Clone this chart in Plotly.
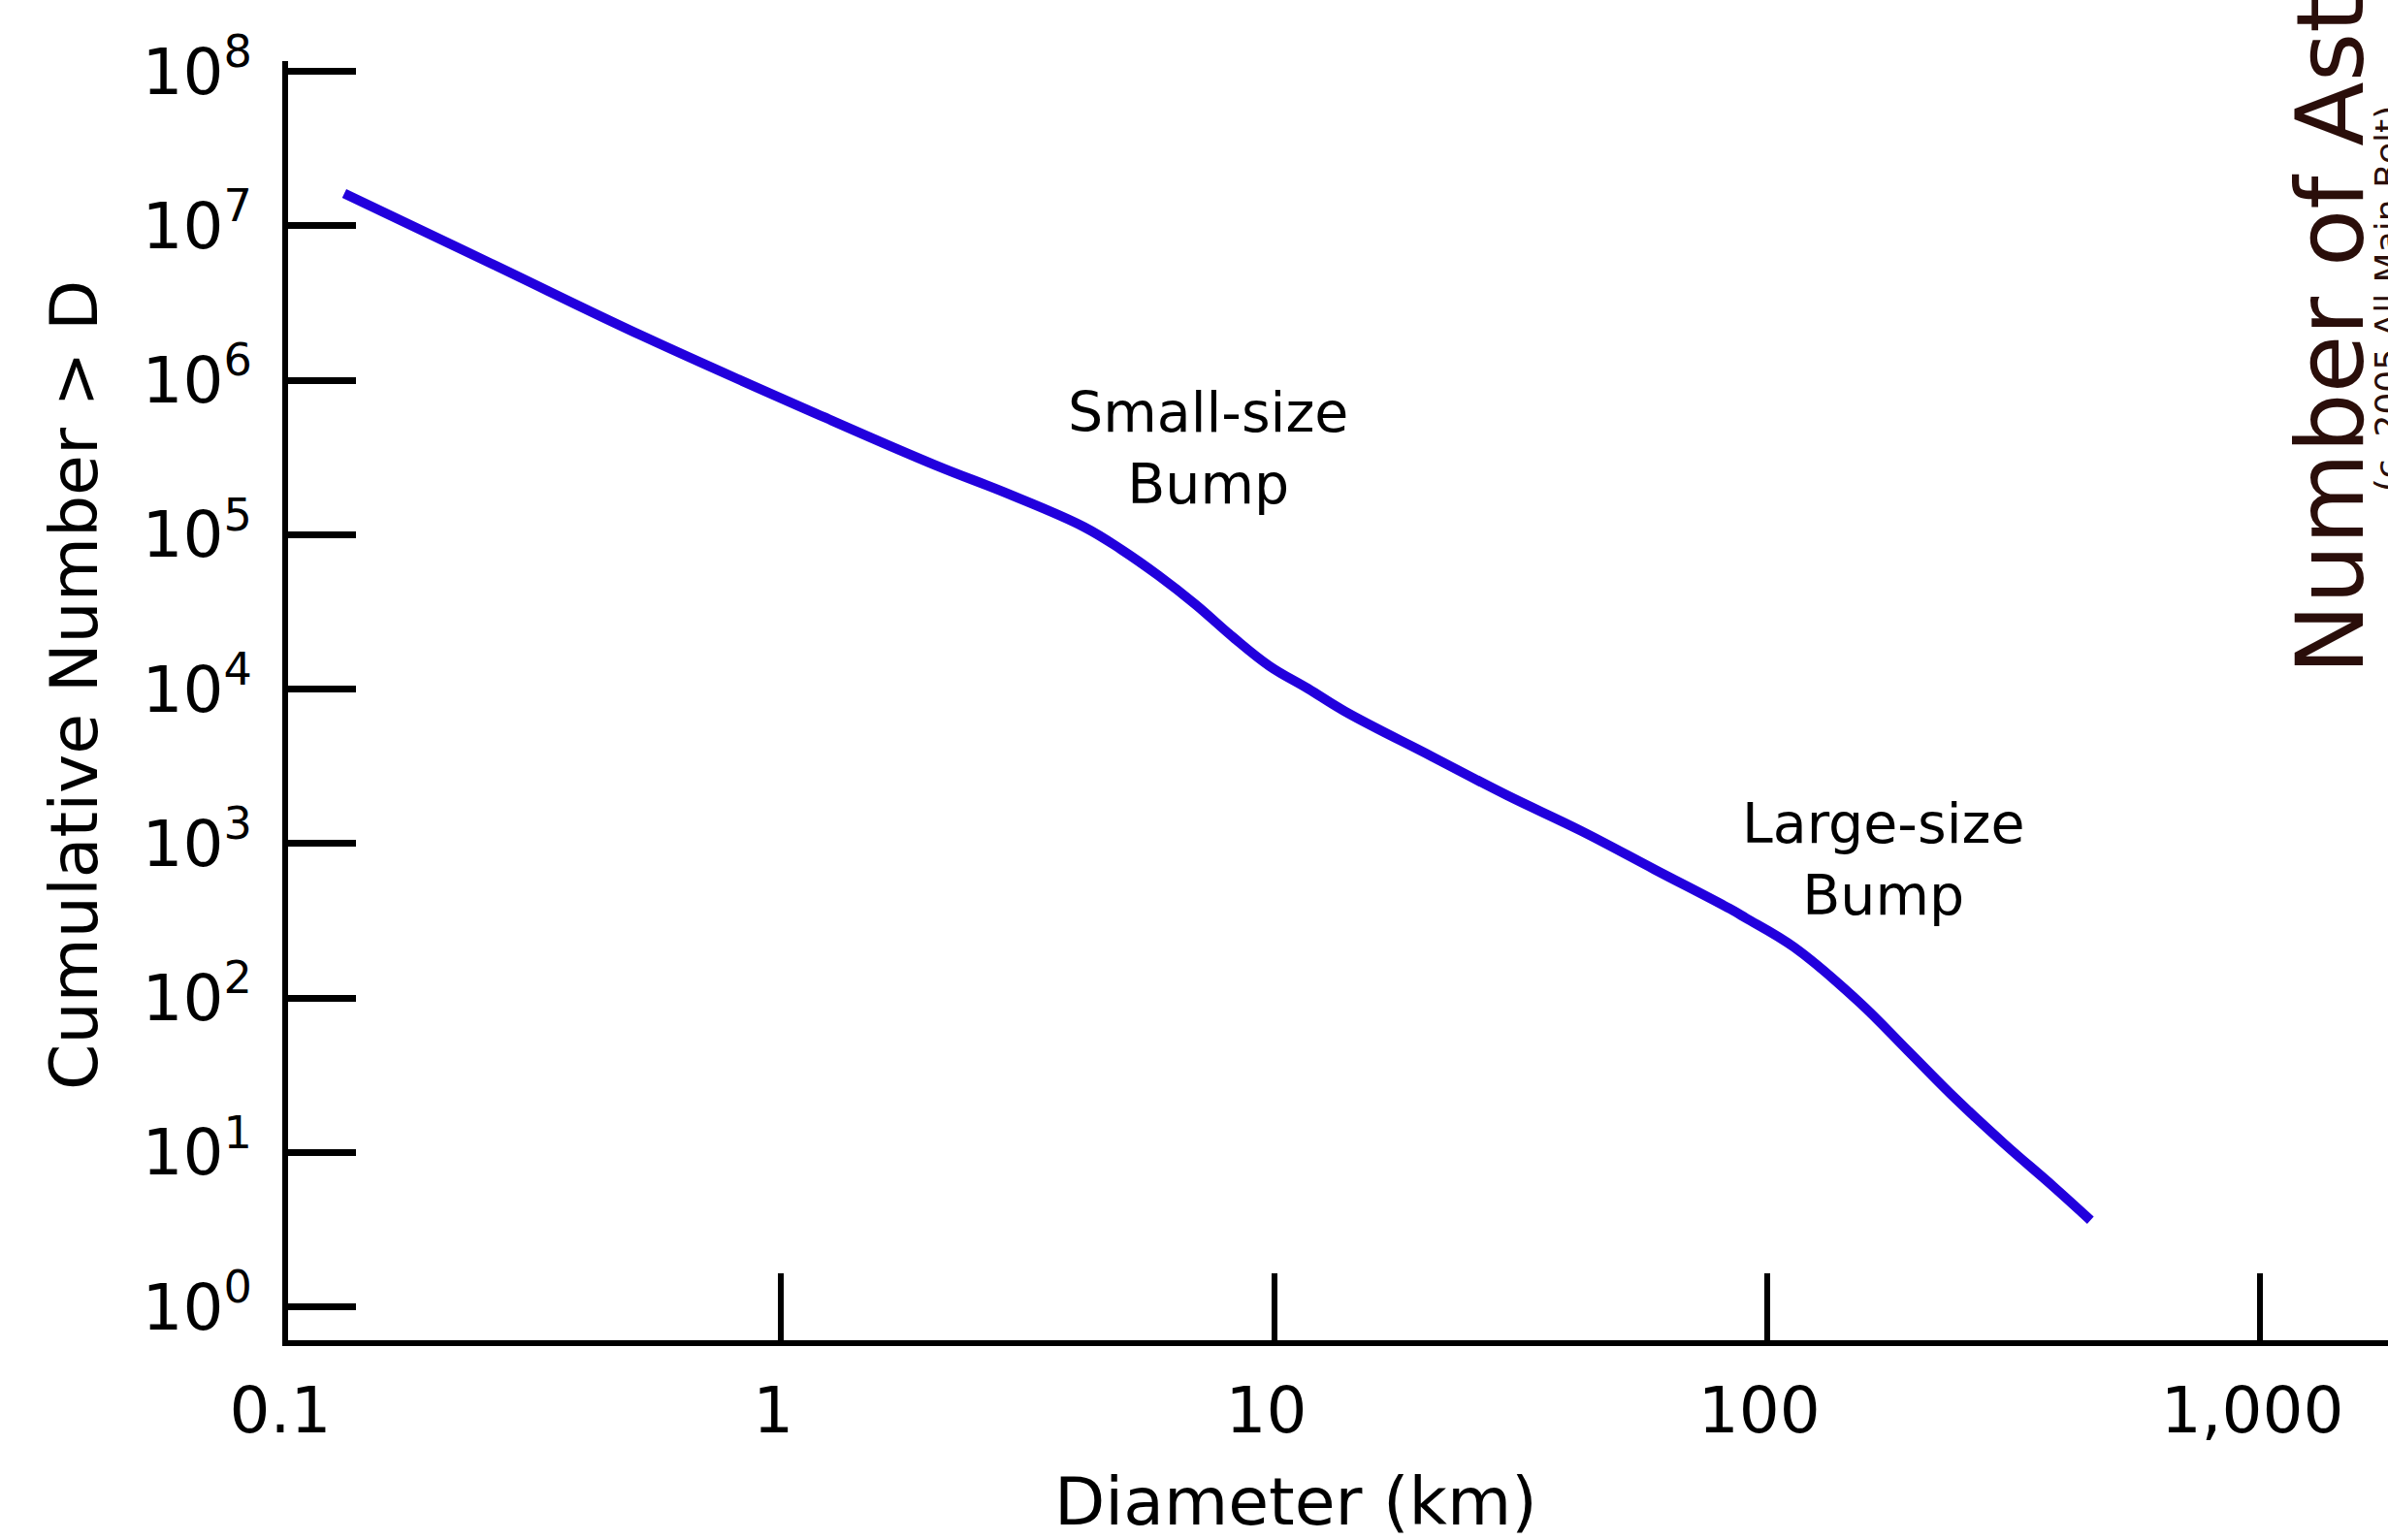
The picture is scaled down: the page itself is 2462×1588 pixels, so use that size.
import plotly.graph_objects as go

# Curve
diameter_km = [0.130, 0.262, 0.524, 1.22, 2.06, 2.91, 4.12, 4.90, 5.82, 6.93, 8.24, 9.79,
               11.7, 13.9, 20.9, 29.6, 41.9, 59.2, 83.8, 90.6, 113.5, 153.8, 192.8,
               241.5, 303.4, 380.2, 452.9]
cumulative_number = [1.62e7, 5.57e6, 1.93e6, 5.78e5, 2.81e5, 1.82e5, 1.12e5, 8.0e4, 5.45e4,
                     3.53e4, 2.18e4, 1.41e4, 1.01e4, 7.19e3, 3.66e3, 2.06e3, 1.21e3,
                     678, 380, 329, 213, 94.0, 45.7, 22.2, 11.3, 6.04, 3.64]

x_tick_values = [0.1, 1, 10, 100, 1000]
x_tick_labels = ["0.1", "1", "10", "100", "1,000"]
y_tick_values = [10 ** k for k in range(0, 9)]
y_tick_labels = ["10<sup>%d</sup>" % k for k in range(0, 9)]

FONT = "DejaVu Sans"

fig = go.Figure()
fig.add_trace(go.Scatter(
    x=diameter_km, y=cumulative_number, mode="lines",
    line=dict(color="#2200DD", width=10, shape="spline", smoothing=1.1),
    showlegend=False, hoverinfo="skip"))

fig.update_layout(
    width=2462, height=1588,
    margin=dict(l=297, r=0, t=63, b=206),
    paper_bgcolor="white", plot_bgcolor="white",
    font=dict(family=FONT, color="black"),
    xaxis=dict(type="log", range=[-1, 3.2595], showgrid=False, zeroline=False,
               showline=True, linecolor="black", linewidth=6,
               ticks="inside", ticklen=69, tickwidth=6, tickcolor="black",
               tickvals=x_tick_values, ticktext=x_tick_labels,
               tickfont=dict(size=66, family=FONT, color="black"),
               ticklabelstandoff=10, ticklabelshift=-8),
    yaxis=dict(type="log", range=[-0.216, 8.066], showgrid=False, zeroline=False,
               showline=True, linecolor="black", linewidth=6,
               ticks="inside", ticklen=70, tickwidth=7, tickcolor="black",
               tickvals=y_tick_values, ticktext=y_tick_labels,
               tickfont=dict(size=66, family=FONT, color="black"),
               ticklabelstandoff=18),
)

annotations = [
    dict(text="Diameter (km)", x=0.48, y=-0.126, size=68, angle=0),
    dict(text="Cumulative Number > D", x=-0.1016, y=0.5118, size=68, angle=-90),
    dict(text="Small-size<br>Bump", x=0.4379, y=0.6975, size=57, angle=0),
    dict(text="Large-size<br>Bump", x=0.7594, y=0.376, size=57, angle=0),
]
for a in annotations:
    fig.add_annotation(xref="paper", yref="paper", showarrow=False,
                       xanchor="center", yanchor="middle", align="center",
                       x=a["x"], y=a["y"], text=a["text"], textangle=a["angle"],
                       font=dict(family=FONT, color="black", size=a["size"]))

fig.add_annotation(xref="paper", yref="paper", showarrow=False,
                   text="Number of Asteroids", textangle=-90,
                   x=0.9723, y=0.519, xanchor="center", yanchor="bottom",
                   font=dict(family=FONT, size=97, color="#2a0e0a"))
fig.add_annotation(xref="paper", yref="paper", showarrow=False,
                   text="(c. 2005 All Main-Belt)", textangle=-90,
                   x=0.9995, y=0.662, xanchor="center", yanchor="bottom",
                   font=dict(family=FONT, size=36, color="#2a0e0a"))

fig.write_html("out.html")
